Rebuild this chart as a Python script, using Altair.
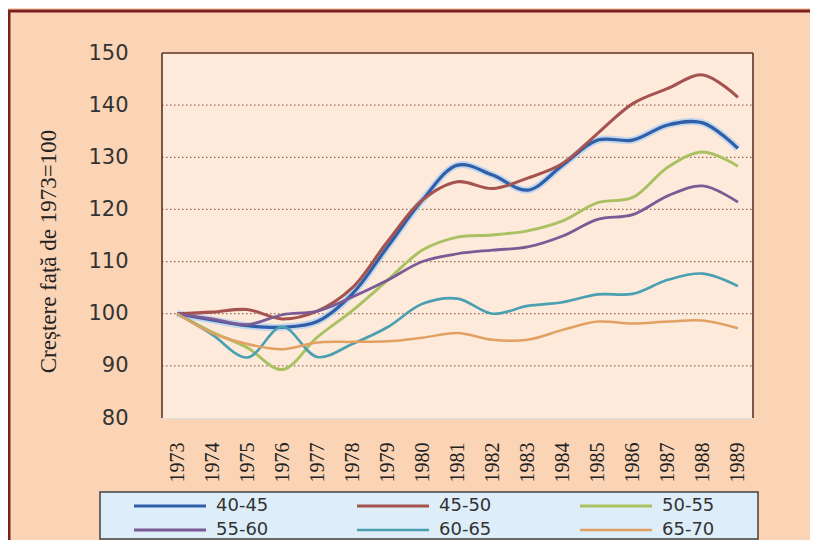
import altair as alt
import pandas as pd

years = [str(y) for y in range(1973, 1990)]
groups = ["40-45", "45-50", "50-55", "55-60", "60-65", "65-70"]

s4045 = [100, 98.8, 97.7, 97.4, 98.5, 103.8, 112.8, 121.8, 128.5, 126.6, 123.7, 128.5, 133.3, 133.3, 136.2, 136.6, 131.7]
s4550 = [100, 100.3, 100.8, 99.0, 100.5, 105.0, 113.8, 121.8, 125.3, 124.0, 126.0, 128.8, 134.6, 140.3, 143.2, 145.8, 141.5]
s5055 = [100, 96.5, 93.5, 89.3, 95.5, 100.6, 106.4, 112.2, 114.7, 115.1, 115.9, 117.8, 121.3, 122.3, 128.1, 131.0, 128.3]
s5560 = [100, 99.0, 97.9, 99.8, 100.5, 103.2, 106.4, 110.0, 111.5, 112.2, 112.8, 114.9, 118.1, 119.0, 122.6, 124.5, 121.4]
s6065 = [100, 96.0, 91.6, 97.5, 91.7, 94.2, 97.4, 101.9, 102.9, 100.0, 101.5, 102.2, 103.7, 103.8, 106.5, 107.7, 105.3]
s6570 = [100, 96.3, 94.2, 93.2, 94.5, 94.6, 94.7, 95.4, 96.3, 95.0, 95.0, 96.9, 98.5, 98.1, 98.5, 98.7, 97.2]

colors = ["#2F5FA8", "#A5534E", "#A9C161", "#7B5B95", "#4A9FB0", "#E3A063"]
widths = [3.2, 2.5, 2.5, 2.5, 2.5, 2.5]
y_ticks = [80, 90, 100, 110, 120, 130, 140, 150]
grid_values = [90, 100, 110, 120, 130, 140]
y_title = "Creștere față de 1973=100"

series = [s4045, s4550, s5055, s5560, s6065, s6570]
rows = []
for g, vals in zip(groups, series):
    for yr, v in zip(years, vals):
        rows.append({"an": yr, "grupa": g, "val": v})
df = pd.DataFrame(rows)

W, H = 591, 365
xscale = alt.Scale(type="point", padding=0.43, domain=years)
yscale = alt.Scale(domain=[80, 150], nice=False, zero=False)
one = pd.DataFrame({"a": [0]})

x_axis = alt.Axis(
    title=None, labelAngle=-90, labelFont="Liberation Serif", labelFontSize=20,
    labelColor="#222", labelPadding=24, ticks=False, domain=False, grid=False,
    zindex=2,
)
y_axis = alt.Axis(
    values=y_ticks, title=y_title, titleFont="Liberation Serif", titleFontSize=23,
    titleFontWeight="normal", titleColor="#222", titlePadding=27, titleY=198,
    labelFont="DejaVu Sans", labelFontSize=21, labelColor="#333", labelPadding=34,
    ticks=False, domain=False, grid=False, zindex=2,
)

frame_col = "#7B1F1F"
frame_top = alt.Chart(one).mark_rule(color=frame_col, strokeWidth=3).encode(
    x=alt.value(-154), x2=alt.value(648), y=alt.value(-42))
frame_left = alt.Chart(one).mark_rule(color=frame_col, strokeWidth=3).encode(
    x=alt.value(-153), y=alt.value(-43), y2=alt.value(487))
plotbg = alt.Chart(one).mark_rect(fill="#FDEADB").encode(
    x=alt.value(0), x2=alt.value(W), y=alt.value(0), y2=alt.value(H)
)
legbg = alt.Chart(one).mark_rect(fill="#DDEEF9", stroke="#404040", strokeWidth=1.5).encode(
    x=alt.value(-62), x2=alt.value(596), y=alt.value(439), y2=alt.value(486)
)
grid = alt.Chart(pd.DataFrame({"g": grid_values})).mark_rule(
    color="#9A6A4C", strokeDash=[1.5, 2.5], strokeWidth=1.3
).encode(y=alt.Y("g:Q", scale=yscale, axis=y_axis), x=alt.value(0), x2=alt.value(W))

border_col = "#5B3425"
top_b = alt.Chart(one).mark_rule(color=border_col, strokeWidth=1.6).encode(
    x=alt.value(0), x2=alt.value(W), y=alt.value(0))
left_b = alt.Chart(one).mark_rule(color=border_col, strokeWidth=1.6).encode(
    x=alt.value(0), y=alt.value(0), y2=alt.value(H))
right_b = alt.Chart(one).mark_rule(color=border_col, strokeWidth=1.6).encode(
    x=alt.value(W), y=alt.value(0), y2=alt.value(H))

halo = alt.Chart(df[df.grupa == "40-45"]).mark_line(
    interpolate="catmull-rom", color="#A9CDF2", strokeWidth=7, opacity=0.7
).encode(
    x=alt.X("an:O", scale=xscale, axis=x_axis, sort=years),
    y=alt.Y("val:Q", scale=yscale, axis=y_axis),
)

legend = alt.Legend(
    orient="none", legendX=-30, legendY=442, columns=3, direction="horizontal",
    title=None, symbolType="stroke", symbolSize=5184, symbolStrokeWidth=3,
    clipHeight=22, rowPadding=2, columnPadding=86, labelFont="DejaVu Sans",
    labelFontSize=18, labelColor="#333", labelOffset=8, padding=0,
)

lines = alt.Chart(df).mark_line(interpolate="catmull-rom").encode(
    x=alt.X("an:O", scale=xscale, axis=x_axis, sort=years),
    y=alt.Y("val:Q", scale=yscale, axis=y_axis),
    color=alt.Color("grupa:N", scale=alt.Scale(domain=groups, range=colors), legend=legend),
    strokeWidth=alt.StrokeWidth("grupa:N", scale=alt.Scale(domain=groups, range=widths), legend=None),
)

chart = alt.layer(
    frame_top, frame_left, plotbg, legbg, grid, top_b, left_b, right_b, halo, lines
).properties(
    width=W, height=H,
    autosize=alt.AutoSizeParams(type="none"),
    padding={"left": 154, "top": 45, "right": 57, "bottom": 122},
).configure_view(stroke=None).configure(background="#FBD4B5")

chart.save("out.html", embed_options={"renderer": "svg", "actions": False})
